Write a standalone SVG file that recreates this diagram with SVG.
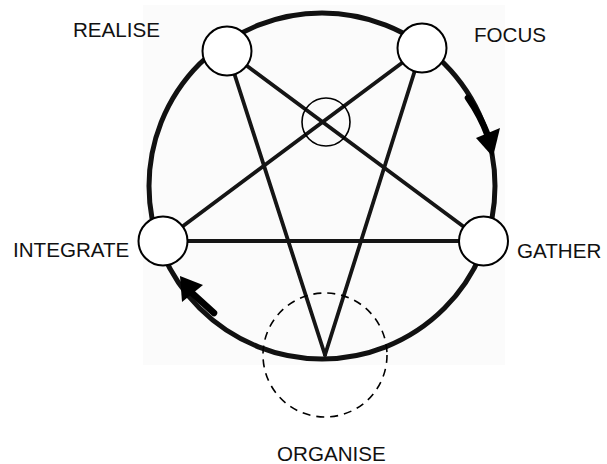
<svg xmlns="http://www.w3.org/2000/svg" width="607" height="464" viewBox="0 0 607 464">
<style>
.lbl{font-family:"Liberation Sans",Arial,sans-serif;font-size:20.6px;fill:#111}
.node{fill:#fff;stroke:#000;stroke-width:2}
.star{stroke:#151515;stroke-width:3.8;fill:none;stroke-linecap:round}
.ring{stroke:#111;stroke-width:5;fill:none}
.thick{stroke:#000;stroke-width:6.5;fill:none;stroke-linecap:round}
.head{fill:#000}
</style>
<rect width="607" height="464" fill="#fff"/>
<rect x="143" y="5" width="362" height="360" fill="#fbfbfb"/>
<g id="connectors">
<circle class="ring" cx="322" cy="186" r="173"/>
<line class="star" x1="227" y1="51" x2="325" y2="355"/>
<line class="star" x1="422" y1="48" x2="325" y2="355"/>
<line class="star" x1="227" y1="51" x2="483" y2="241"/>
<line class="star" x1="422" y1="48" x2="163" y2="241"/>
<line class="star" x1="163" y1="241" x2="483" y2="241"/>
<path class="thick" d="M 468 98 A 173 173 0 0 1 488 136"/>
<polygon class="head" points="476,138 500,128 493,157"/>
<path class="thick" d="M 214 313 L 192 293"/>
<polygon class="head" points="180,276 182,302 203,285"/>
</g>
<g id="centre"><circle cx="326" cy="122" r="24" fill="none" stroke="#000" stroke-width="1.6"/></g>
<g id="realise"><circle class="node" cx="227" cy="51" r="24.5"/><text class="lbl" x="73" y="36.5">REALISE</text></g>
<g id="focus"><circle class="node" cx="422" cy="48" r="24.5"/><text class="lbl" x="474" y="41.5">FOCUS</text></g>
<g id="integrate"><circle class="node" cx="163" cy="241" r="24.5"/><text class="lbl" x="13" y="257">INTEGRATE</text></g>
<g id="gather"><circle class="node" cx="483.5" cy="241" r="24.5"/><text class="lbl" x="517" y="258">GATHER</text></g>
<g id="organise"><circle cx="325" cy="355" r="62" fill="none" stroke="#000" stroke-width="1.6" stroke-dasharray="8,6"/><text class="lbl" x="277" y="461">ORGANISE</text></g>
</svg>
